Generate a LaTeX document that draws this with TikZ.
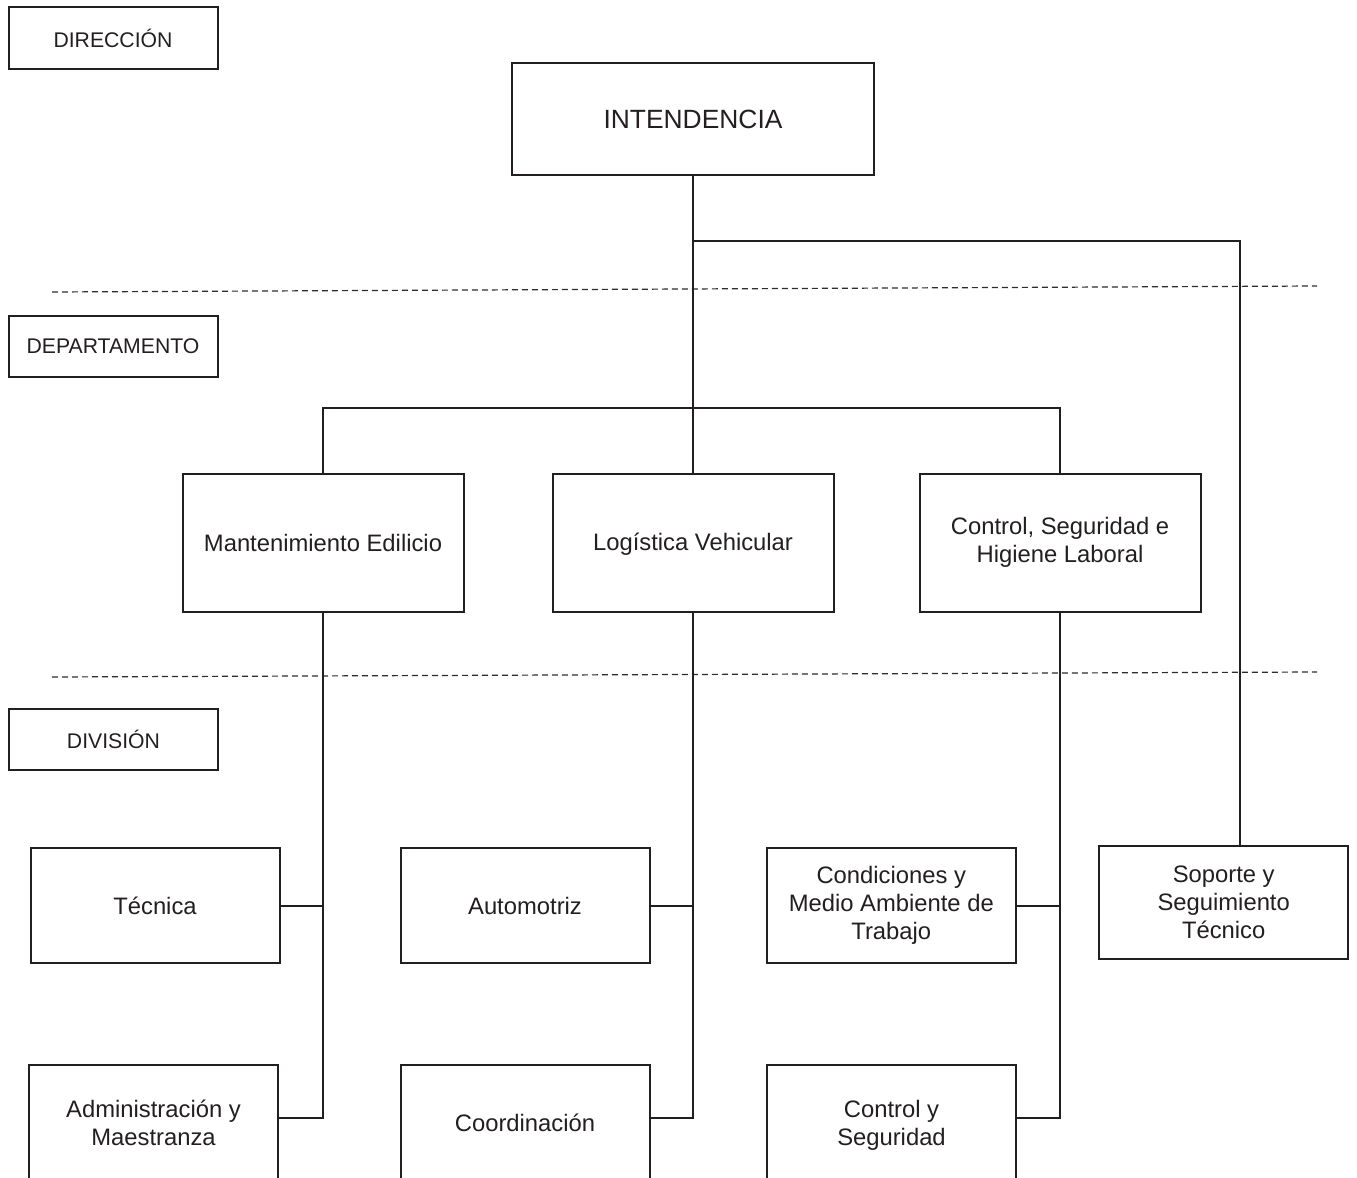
\documentclass[tikz,border=0pt]{standalone}
\usepackage{fontspec}
\setmainfont{Liberation Sans}
\definecolor{ink}{RGB}{35,31,32}
\definecolor{dashink}{RGB}{45,45,45}
\begin{document}
\begin{tikzpicture}[x=0.5pt,y=-0.5pt,
  every node/.style={text=ink},
  unit/.style={draw=ink,line width=1pt,align=center,inner sep=0pt,
    font=\fontsize{11.9}{14}\selectfont},
  levelbox/.style={draw=ink,line width=1pt,align=center,inner sep=0pt,
    minimum width=104.5pt,minimum height=30.5pt,
    font=\fontsize{10.6}{12.5}\selectfont},
  link/.style={draw=ink,line width=1pt},
  divider/.style={draw=dashink,line width=0.6pt,dash pattern=on 3pt off 2pt}]

\clip (0,0) rectangle (1357,1178);
\fill[white] (0,0) rectangle (1357,1178);

% level labels
\node[levelbox,minimum height=31pt] (dir) at (113,38) {DIRECCIÓN};
\node[levelbox] (dep) at (113,346) {DEPARTAMENTO};
\node[levelbox] (div) at (113.5,739) {DIVISIÓN};

% level dividers
\coordinate (d1a) at (52,292);
\coordinate (d1b) at (1317,286);
\coordinate (d2a) at (52,677);
\coordinate (d2b) at (1317,672);
\draw[divider] (d1a) -- (d1b);
\draw[divider] (d2a) -- (d2b);

% top unit
\node[unit,minimum width=181pt,minimum height=55.75pt,
  font=\fontsize{13.2}{15}\selectfont] (int) at (693,119.2) {INTENDENCIA};

% departments
\tikzset{dept/.style={unit,minimum width=140.5pt,minimum height=69.25pt}}
\node[dept] (mant) at (323,542.8) {Mantenimiento Edilicio};
\node[dept] (log)  at (693,542.8) {Logística Vehicular\vphantom{Í}};
\node[dept] (csh)  at (1060,542.8) {Control, Seguridad e\\Higiene Laboral};

% divisions
\tikzset{divu/.style={unit,minimum width=124.5pt,minimum height=57.2pt}}
\node[divu] (tec)  at (155,905.5) {Técnica};
\node[divu] (aut)  at (525,905.5) {Automotriz};
\node[divu] (cond) at (891.3,905.5) {Condiciones y\\Medio Ambiente de\\Trabajo};
\node[divu,minimum height=56.8pt] (sop) at (1223.7,902.5) {Soporte y\\Seguimiento\\Técnico};
\node[divu,minimum height=57.5pt] (adm) at (153.5,1122.5) {Administración y\\Maestranza};
\node[divu,minimum height=57.5pt] (coo) at (525,1122.5) {Coordinación};
\node[divu,minimum height=60.5pt] (cys) at (891.5,1125.5) {Control y\\Seguridad};

% junction points
\coordinate (sj) at (1239.5,241);
\coordinate (db) at (0,408);
\coordinate (lowbus) at (0,1118);

% Intendencia to its units
\draw[link] (int.south) -- (log.north);
\draw[link] (int.south |- sj) -- (sj) -- (sj |- sop.north);
\draw[link] (mant.north) -- (mant.north |- db) -- (csh.north |- db) -- (csh.north);

% departments to divisions
\draw[link] (mant.south) -- (mant.south |- lowbus) -- (adm.east |- lowbus);
\draw[link] (tec.east) -- (tec.east -| mant.south);
\draw[link] (log.south) -- (log.south |- lowbus) -- (coo.east |- lowbus);
\draw[link] (aut.east) -- (aut.east -| log.south);
\draw[link] (csh.south) -- (csh.south |- lowbus) -- (cys.east |- lowbus);
\draw[link] (cond.east) -- (cond.east -| csh.south);
\end{tikzpicture}
\end{document}
